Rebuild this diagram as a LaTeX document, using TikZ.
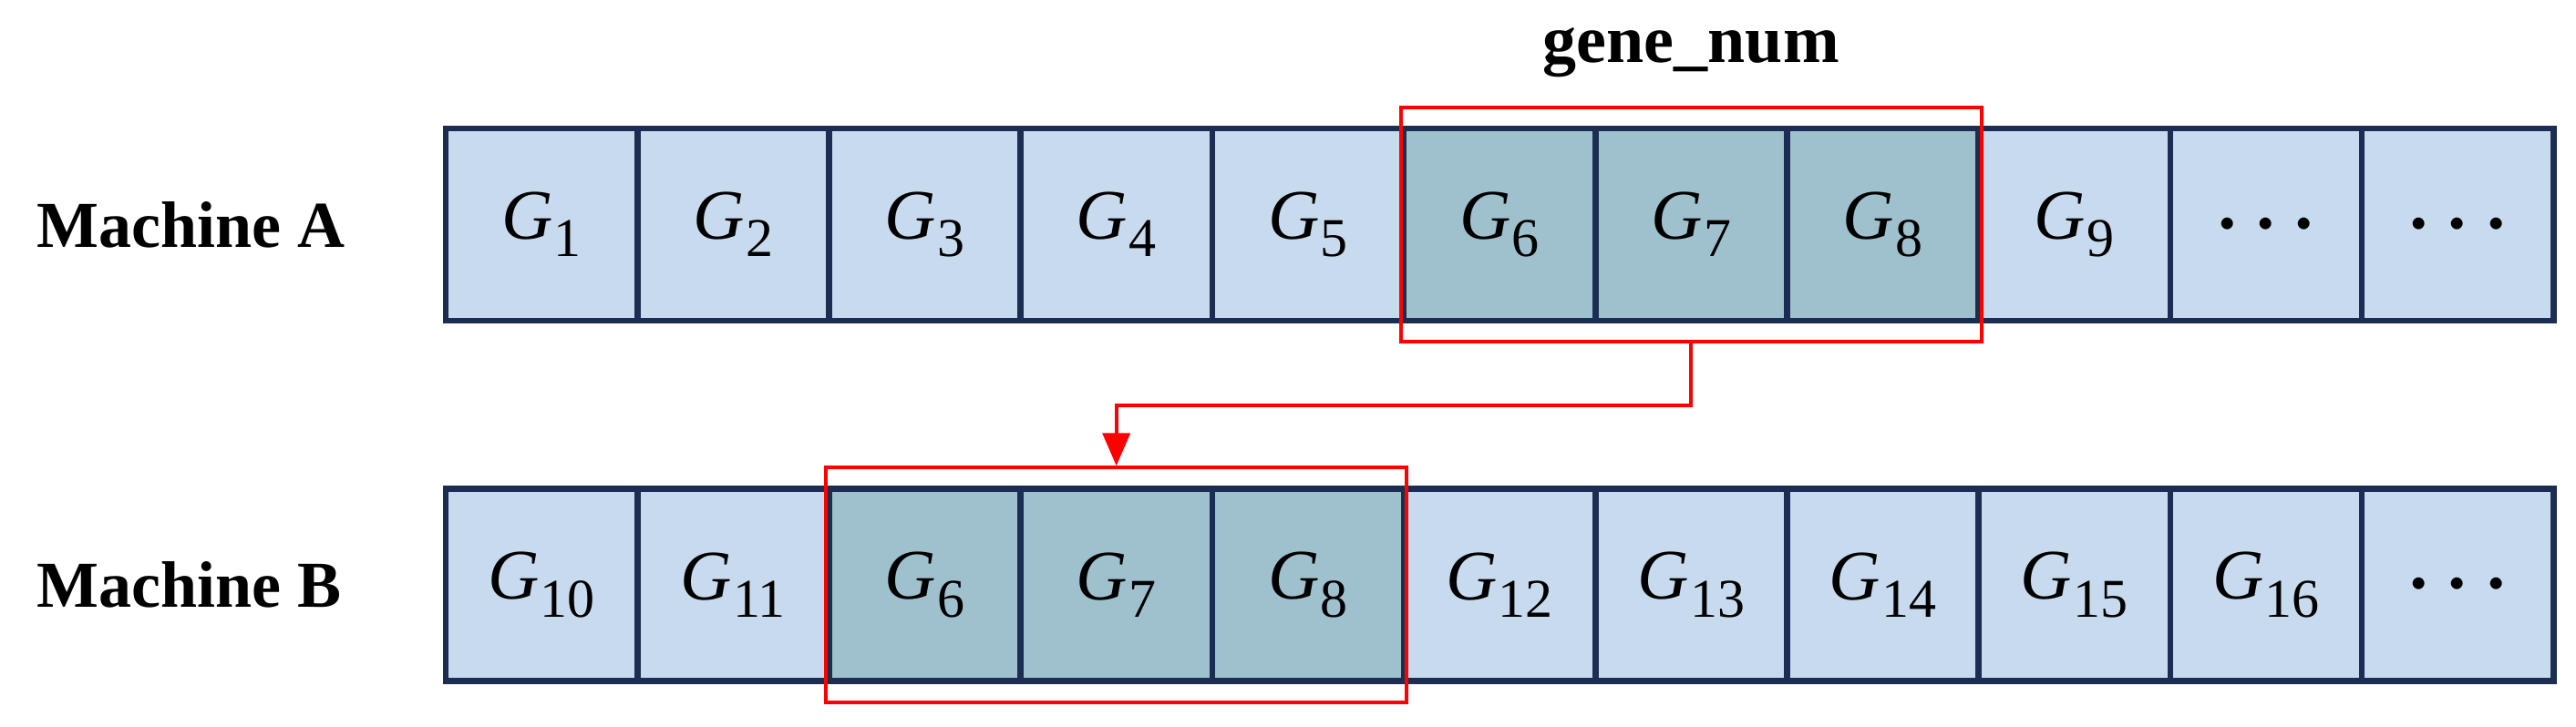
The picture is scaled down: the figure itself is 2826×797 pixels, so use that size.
\documentclass[tikz,border=0pt]{standalone}
\usepackage{fontspec}
\setmainfont{Liberation Serif}
\usetikzlibrary{fit,arrows.meta}
\definecolor{cellblue}{HTML}{C8DBEE}
\definecolor{celldark}{HTML}{9FC1CD}
\definecolor{cellline}{HTML}{1B2D52}
\newcommand{\gname}[1]{\textit{G}\kern0.3pt\raisebox{-4.8pt}{\fontsize{15}{15}\selectfont #1}}
\newcommand{\gdots}{{\boldmath$\cdots$}}
\begin{document}
\begin{tikzpicture}[x=0.25pt,y=-0.25pt,
  cellbox/.style={draw=cellline, line width=1.65pt, fill=cellblue, minimum width=52.55pt, minimum height=52.7pt, inner sep=0pt, font=\fontsize{19.5}{20}\selectfont},
  hilite/.style={cellbox, fill=celldark},
  redbox/.style={draw=red, line width=1pt, inner xsep=0pt, inner ysep=5pt},
  machine/.style={font=\fontsize{18}{20}\selectfont\bfseries, anchor=west, inner sep=0pt}]
\useasboundingbox (0,0) rectangle (2826,797);
% Row A
\foreach \i/\t/\s in {1/\gname{1}/cellbox, 2/\gname{2}/cellbox, 3/\gname{3}/cellbox, 4/\gname{4}/cellbox, 5/\gname{5}/cellbox, 6/\gname{6}/hilite, 7/\gname{7}/hilite, 8/\gname{8}/hilite, 9/\gname{9}/cellbox, 10/\gdots/cellbox, 11/\gdots/cellbox}
  \node[\s] (a\i) at ({489+(\i-0.5)*210.2},246.5) {\t};
% Row B
\foreach \i/\t/\s in {1/\gname{10}/cellbox, 2/\gname{11}/cellbox, 3/\gname{6}/hilite, 4/\gname{7}/hilite, 5/\gname{8}/hilite, 6/\gname{12}/cellbox, 7/\gname{13}/cellbox, 8/\gname{14}/cellbox, 9/\gname{15}/cellbox, 10/\gname{16}/cellbox, 11/\gdots/cellbox}
  \node[\s] (b\i) at ({489+(\i-0.5)*210.2},642) {\t};
% labels
\node[machine] (ma) at (40,246.5) {Machine A};
\node[machine] (mb) at (40,642) {Machine B};
% red boxes
\node[redbox, fit=(a6)(a8)] (ra) {};
\node[redbox, fit=(b3)(b5)] (rb) {};
\node[font=\fontsize{18.5}{20}\selectfont\bfseries] (gn) at ([yshift=14.5pt]ra.north) {gene\_num};
% connector
\draw[red, line width=1pt, -{Triangle[length=9pt,width=7.5pt]}] (ra.south) -- ++(0,68) -| (rb.north);
\end{tikzpicture}
\end{document}
